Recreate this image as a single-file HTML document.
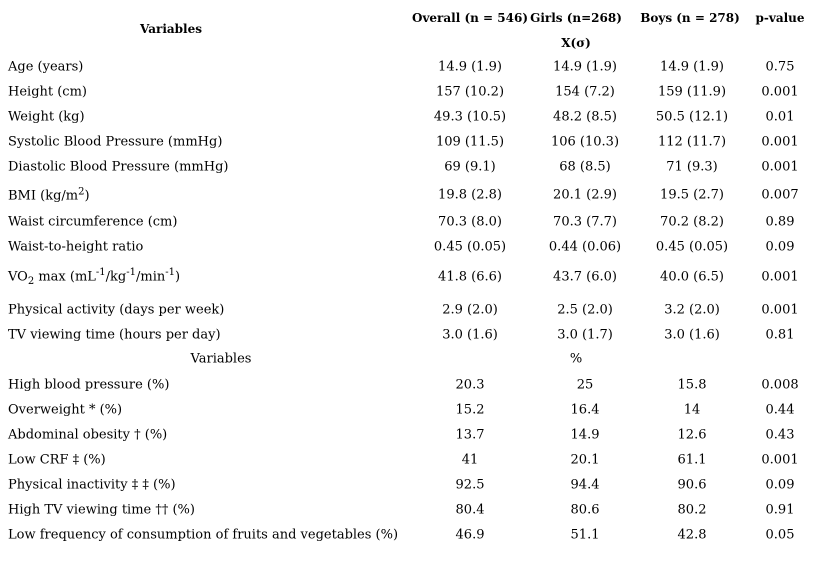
<!DOCTYPE html>
<html><head><meta charset="utf-8"><style>
body{margin:0;background:#fff;width:816px;height:585px;position:relative;overflow:hidden;font-family:"DejaVu Serif","Liberation Serif",serif;font-size:13px;color:#000}
.t{position:absolute;white-space:nowrap;transform:translate(-50%,-50%)}
.l{position:absolute;white-space:nowrap;left:8px;transform:translateY(-50%)}
.h{font-weight:bold;font-size:12px}
sup,sub{font-size:10px}
</style></head><body>
<div class="t h" style="left:171px;top:29px">Variables</div>
<div class="t h" style="left:470px;top:18px">Overall (n = 546)</div>
<div class="t h" style="left:576px;top:18px">Girls (n=268)</div>
<div class="t h" style="left:690px;top:18px">Boys (n = 278)</div>
<div class="t h" style="left:780px;top:18px">p-value</div>
<div class="t h" style="left:576px;top:43px">X(σ)</div>
<div class="t" style="left:221px;top:359px">Variables</div>
<div class="t" style="left:576px;top:359px">%</div>
<script>
const labels=["Age (years)","Height (cm)","Weight (kg)","Systolic Blood Pressure (mmHg)","Diastolic Blood Pressure (mmHg)","BMI (kg/m<sup>2</sup>)","Waist circumference (cm)","Waist-to-height ratio","VO<sub>2</sub> max (mL<sup>-1</sup>/kg<sup>-1</sup>/min<sup>-1</sup>)","Physical activity (days per week)","TV viewing time (hours per day)","High blood pressure (%)","Overweight * (%)","Abdominal obesity † (%)","Low CRF ‡ (%)","Physical inactivity ‡ ‡ (%)","High TV viewing time †† (%)","Low frequency of consumption of fruits and vegetables (%)"];
const overall=["14.9 (1.9)","157 (10.2)","49.3 (10.5)","109 (11.5)","69 (9.1)","19.8 (2.8)","70.3 (8.0)","0.45 (0.05)","41.8 (6.6)","2.9 (2.0)","3.0 (1.6)","20.3","15.2","13.7","41","92.5","80.4","46.9"];
const girls=["14.9 (1.9)","154 (7.2)","48.2 (8.5)","106 (10.3)","68 (8.5)","20.1 (2.9)","70.3 (7.7)","0.44 (0.06)","43.7 (6.0)","2.5 (2.0)","3.0 (1.7)","25","16.4","14.9","20.1","94.4","80.6","51.1"];
const boys=["14.9 (1.9)","159 (11.9)","50.5 (12.1)","112 (11.7)","71 (9.3)","19.5 (2.7)","70.2 (8.2)","0.45 (0.05)","40.0 (6.5)","3.2 (2.0)","3.0 (1.6)","15.8","14","12.6","61.1","90.6","80.2","42.8"];
const pvals=["0.75","0.001","0.01","0.001","0.001","0.007","0.89","0.09","0.001","0.001","0.81","0.008","0.44","0.43","0.001","0.09","0.91","0.05"];
const rowY=[67,92,117,142,167,195,222,247,277,310,335,385,410,435,460,485,510,535];
const cols=[[overall,470,'overall'],[girls,585,'girls'],[boys,692,'boys'],[pvals,780,'p-value']];
labels.forEach((lab,i)=>{
  const d=document.createElement('div');d.className='l';d.style.top=rowY[i]+'px';d.innerHTML=lab;
  
  
  document.body.appendChild(d);
  cols.forEach(c=>{
    const e=document.createElement('div');e.className='t';e.style.left=c[1]+'px';e.style.top=rowY[i]+'px';e.textContent=c[0][i];
    
    
    document.body.appendChild(e);
  });
});
</script>
</body></html>
